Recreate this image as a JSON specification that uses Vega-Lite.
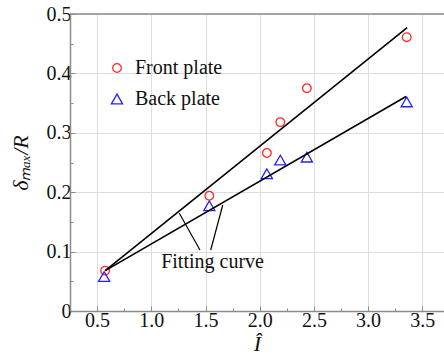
{
  "$schema": "https://vega.github.io/schema/vega-lite/v6.json",
  "width": 374,
  "height": 297,
  "autosize": {"type": "none"},
  "padding": {"left": 70, "top": 14, "right": 0, "bottom": 47},
  "config": {
    "view": {"stroke": null},
    "font": "Liberation Serif"
  },
  "datasets": {
    "pts": [
      {"I": 0.574, "d": 0.068, "series": "Front plate"},
      {"I": 1.535, "d": 0.194, "series": "Front plate"},
      {"I": 2.066, "d": 0.266, "series": "Front plate"},
      {"I": 2.19, "d": 0.318, "series": "Front plate"},
      {"I": 2.435, "d": 0.375, "series": "Front plate"},
      {"I": 3.356, "d": 0.461, "series": "Front plate"},
      {"I": 0.565, "d": 0.058, "series": "Back plate"},
      {"I": 1.535, "d": 0.177, "series": "Back plate"},
      {"I": 2.066, "d": 0.231, "series": "Back plate"},
      {"I": 2.19, "d": 0.254, "series": "Back plate"},
      {"I": 2.435, "d": 0.259, "series": "Back plate"},
      {"I": 3.356, "d": 0.352, "series": "Back plate"}
    ],
    "fits": [
      {"x1": 0.575, "y1": 0.068, "x2": 3.36, "y2": 0.477},
      {"x1": 0.575, "y1": 0.068, "x2": 3.35, "y2": 0.361}
    ],
    "leaders": [
      {"x1": 1.258, "y1": 0.1645, "x2": 1.449, "y2": 0.1027},
      {"x1": 1.659, "y1": 0.1785, "x2": 1.548, "y2": 0.1027}
    ],
    "notes": [
      {"x": 1.565, "y": 0.0724, "label": "Fitting curve"}
    ]
  },
  "layer": [
    {
      "data": {"name": "pts"},
      "mark": {"type": "point", "filled": false, "strokeWidth": 1.3, "opacity": 1},
      "encoding": {
        "x": {
          "field": "I", "type": "quantitative",
          "scale": {"domain": [0.25, 3.7], "nice": false, "zero": false},
          "axis": {
            "orient": "bottom",
            "values": [0.5, 1.0, 1.5, 2.0, 2.5, 3.0, 3.5],
            "format": ".1f",
            "domainColor": "#8c8c8c", "domainWidth": 1.5,
            "tickColor": "#8c8c8c", "tickWidth": 1,
            "tickSize": -5,
            "labelFont": "Liberation Serif", "labelFontSize": 20, "labelColor": "#111111",
            "labelPadding": 4,
            "title": "Î",
            "titleFont": "Liberation Serif", "titleFontSize": 22, "titleFontStyle": "italic",
            "titleFontWeight": "normal", "titleColor": "#111111",
            "titlePadding": 3
          }
        },
        "y": {
          "field": "d", "type": "quantitative",
          "scale": {"domain": [0, 0.5], "nice": false},
          "axis": {
            "orient": "left",
            "values": [0, 0.1, 0.2, 0.3, 0.4, 0.5],
            "labelExpr": "datum.value == 0 ? '0' : format(datum.value, '.1f')",
            "domainColor": "#8c8c8c", "domainWidth": 1.5,
            "tickColor": "#8c8c8c", "tickWidth": 1,
            "tickSize": -5,
            "labelFont": "Liberation Serif", "labelFontSize": 20, "labelColor": "#111111",
            "labelPadding": 4,
            "title": "δₘₐₓ/R",
            "titleFont": "Liberation Serif", "titleFontSize": 22, "titleFontStyle": "italic",
            "titleFontWeight": "normal", "titleColor": "#111111",
            "titlePadding": 14
          }
        },
        "shape": {
          "field": "series", "type": "nominal",
          "scale": {"domain": ["Front plate", "Back plate"], "range": ["circle", "triangle-up"]},
          "legend": {
            "orient": "none", "legendX": 37, "legendY": 44, "padding": 0, "title": null,
            "labelFont": "Liberation Serif", "labelFontSize": 20, "labelColor": "#111111",
            "symbolStrokeWidth": 1.3, "labelOffset": 8, "rowPadding": 11
          }
        },
        "color": {
          "field": "series", "type": "nominal",
          "scale": {"domain": ["Front plate", "Back plate"], "range": ["#ff2b2b", "#2323f5"]},
          "legend": {
            "orient": "none", "legendX": 37, "legendY": 44, "padding": 0, "title": null,
            "labelFont": "Liberation Serif", "labelFontSize": 20, "labelColor": "#111111",
            "symbolStrokeWidth": 1.3, "labelOffset": 8, "rowPadding": 11
          }
        },
        "size": {
          "field": "series", "type": "nominal",
          "scale": {"domain": ["Front plate", "Back plate"], "range": [75, 125]},
          "legend": {
            "orient": "none", "legendX": 37, "legendY": 44, "padding": 0, "title": null,
            "labelFont": "Liberation Serif", "labelFontSize": 20, "labelColor": "#111111",
            "symbolStrokeWidth": 1.3, "labelOffset": 8, "rowPadding": 11
          }
        }
      }
    },
    {
      "data": {"name": "fits"},
      "mark": {"type": "rule", "color": "#000000", "strokeWidth": 1.6},
      "encoding": {
        "x": {
          "field": "x1", "type": "quantitative",
          "scale": {"domain": [0.25, 3.7], "nice": false, "zero": false},
          "axis": {
            "orient": "bottom",
            "values": [0.75, 1.25, 1.75, 2.25, 2.75, 3.25],
            "labels": false, "domain": false, "title": null,
            "tickColor": "#8c8c8c", "tickWidth": 1,
            "tickSize": -3
          }
        },
        "y": {
          "field": "y1", "type": "quantitative",
          "scale": {"domain": [0, 0.5], "nice": false},
          "axis": {
            "orient": "left",
            "values": [0.05, 0.15, 0.25, 0.35, 0.45],
            "labels": false, "domain": false, "title": null,
            "tickColor": "#8c8c8c", "tickWidth": 1,
            "tickSize": -3
          }
        },
        "x2": {"field": "x2"},
        "y2": {"field": "y2"}
      }
    },
    {
      "data": {"name": "leaders"},
      "mark": {"type": "rule", "color": "#000000", "strokeWidth": 1.2},
      "encoding": {
        "x": {"field": "x1", "type": "quantitative", "scale": {"domain": [0.25, 3.7], "nice": false, "zero": false}, "axis": null},
        "y": {"field": "y1", "type": "quantitative", "scale": {"domain": [0, 0.5], "nice": false}, "axis": null},
        "x2": {"field": "x2"},
        "y2": {"field": "y2"}
      }
    },
    {
      "data": {"name": "notes"},
      "mark": {"type": "text", "font": "Liberation Serif", "fontSize": 20, "color": "#111111", "align": "center", "baseline": "alphabetic"},
      "encoding": {
        "x": {"field": "x", "type": "quantitative", "scale": {"domain": [0.25, 3.7], "nice": false, "zero": false}, "axis": null},
        "y": {"field": "y", "type": "quantitative", "scale": {"domain": [0, 0.5], "nice": false}, "axis": null},
        "text": {"field": "label"}
      }
    },
    {
      "data": {"values": [{}]},
      "mark": {"type": "rule", "color": "#8c8c8c", "strokeWidth": 1.5},
      "encoding": {
        "y": {"datum": 0.5, "type": "quantitative", "scale": {"domain": [0, 0.5], "nice": false}, "axis": null}
      }
    }
  ],
  "resolve": {"axis": {"x": "independent", "y": "independent"}}
}
